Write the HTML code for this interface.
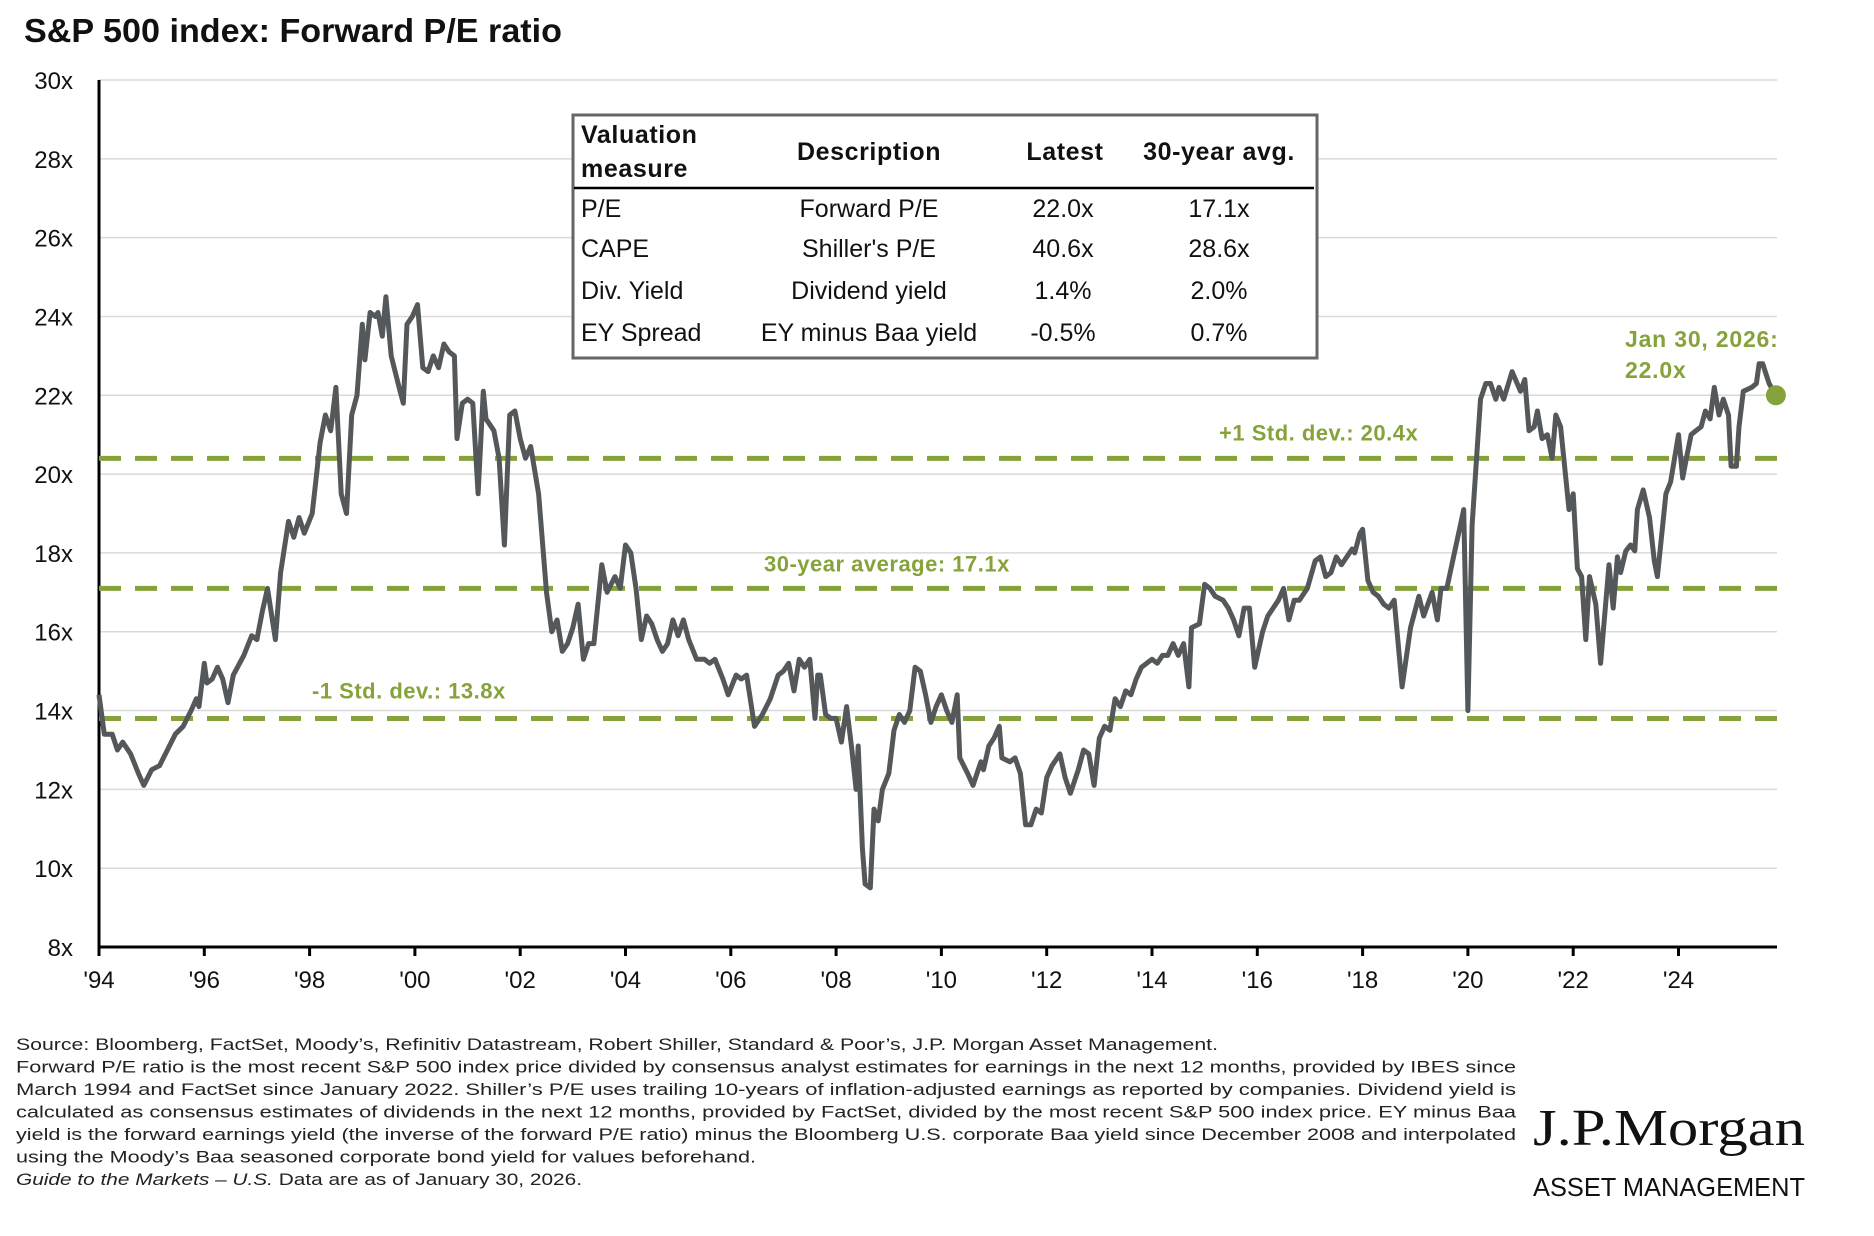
<!DOCTYPE html>
<html><head><meta charset="utf-8"><style>
html,body{margin:0;padding:0;background:#fff;}
svg{display:block;font-family:"Liberation Sans",Arial,sans-serif;}
</style></head><body>
<svg id="chart" width="1874" height="1236" viewBox="0 0 1874 1236">
<text x="24" y="42" font-size="33" font-weight="bold" fill="#111" textLength="538" lengthAdjust="spacingAndGlyphs">S&amp;P 500 index: Forward P/E ratio</text>
<g id="grid"></g>
<g id="yaxis"></g>
<g id="xaxis"></g>
<g id="refs"></g>
<g id="series"></g>

<g>
<rect x="573" y="115" width="744" height="243" fill="#fff" stroke="#666" stroke-width="3"/>
<line x1="574" y1="188" x2="1314" y2="188" stroke="#000" stroke-width="2.5"/>
<g font-size="25" font-weight="bold" fill="#111" letter-spacing="0.6">
<text x="581" y="143">Valuation</text>
<text x="581" y="177">measure</text>
<text x="869" y="160" text-anchor="middle">Description</text>
<text x="1065" y="160" text-anchor="middle">Latest</text>
<text x="1219" y="160" text-anchor="middle">30-year avg.</text>
</g>
<g font-size="25" fill="#111">
<text x="581" y="217">P/E</text>
<text x="869" y="217" text-anchor="middle">Forward P/E</text>
<text x="1063" y="217" text-anchor="middle">22.0x</text>
<text x="1219" y="217" text-anchor="middle">17.1x</text>
<text x="581" y="257">CAPE</text>
<text x="869" y="257" text-anchor="middle">Shiller's P/E</text>
<text x="1063" y="257" text-anchor="middle">40.6x</text>
<text x="1219" y="257" text-anchor="middle">28.6x</text>
<text x="581" y="299">Div. Yield</text>
<text x="869" y="299" text-anchor="middle">Dividend yield</text>
<text x="1063" y="299" text-anchor="middle">1.4%</text>
<text x="1219" y="299" text-anchor="middle">2.0%</text>
<text x="581" y="341">EY Spread</text>
<text x="869" y="341" text-anchor="middle">EY minus Baa yield</text>
<text x="1063" y="341" text-anchor="middle">-0.5%</text>
<text x="1219" y="341" text-anchor="middle">0.7%</text>
</g>
</g>

<g font-size="17" fill="#222">
<text x="16" y="1050" textLength="1202" lengthAdjust="spacingAndGlyphs">Source: Bloomberg, FactSet, Moody’s, Refinitiv Datastream, Robert Shiller, Standard &amp; Poor’s, J.P. Morgan Asset Management.</text>
<text x="16" y="1072.5" textLength="1500" lengthAdjust="spacingAndGlyphs">Forward P/E ratio is the most recent S&amp;P 500 index price divided by consensus analyst estimates for earnings in the next 12 months, provided by IBES since</text>
<text x="16" y="1095" textLength="1500" lengthAdjust="spacingAndGlyphs">March 1994 and FactSet since January 2022. Shiller’s P/E uses trailing 10-years of inflation-adjusted earnings as reported by companies. Dividend yield is</text>
<text x="16" y="1117.5" textLength="1500" lengthAdjust="spacingAndGlyphs">calculated as consensus estimates of dividends in the next 12 months, provided by FactSet, divided by the most recent S&amp;P 500 index price. EY minus Baa</text>
<text x="16" y="1140" textLength="1500" lengthAdjust="spacingAndGlyphs">yield is the forward earnings yield (the inverse of the forward P/E ratio) minus the Bloomberg U.S. corporate Baa yield since December 2008 and interpolated</text>
<text x="16" y="1162.5" textLength="740" lengthAdjust="spacingAndGlyphs">using the Moody’s Baa seasoned corporate bond yield for values beforehand.</text>
<text x="16" y="1185" textLength="566" lengthAdjust="spacingAndGlyphs"><tspan font-style="italic">Guide to the Markets – U.S.</tspan> Data are as of January 30, 2026.</text>
</g>
<g>
<text x="1533" y="1145" font-family="'Liberation Serif',serif" font-size="52" fill="#111" textLength="272" lengthAdjust="spacingAndGlyphs">J.P.Morgan</text>
<text x="1533" y="1196" font-size="26" fill="#111" textLength="272" lengthAdjust="spacingAndGlyphs">ASSET MANAGEMENT</text>
</g>
</svg>
<script>
const yTicks = [8,10,12,14,16,18,20,22,24,26,28,30];
const yTickLabels = ["8x","10x","12x","14x","16x","18x","20x","22x","24x","26x","28x","30x"];
const xTicks = [1994,1996,1998,2000,2002,2004,2006,2008,2010,2012,2014,2016,2018,2020,2022,2024];
const xTickLabels = ["'94","'96","'98","'00","'02","'04","'06","'08","'10","'12","'14","'16","'18","'20","'22","'24"];
const refValues = [20.4, 17.1, 13.8];
const refLabels = ["+1 Std. dev.: 20.4x","30-year average: 17.1x","-1 Std. dev.: 13.8x"];
const dates = [1994.0,1994.1,1994.25,1994.35,1994.45,1994.6,1994.75,1994.85,1995.0,1995.15,1995.3,1995.45,1995.6,1995.75,1995.85,1995.9,1996.0,1996.05,1996.15,1996.25,1996.35,1996.45,1996.55,1996.75,1996.9,1997.0,1997.1,1997.2,1997.35,1997.45,1997.6,1997.7,1997.8,1997.9,1998.05,1998.2,1998.3,1998.4,1998.5,1998.6,1998.7,1998.8,1998.9,1999.0,1999.05,1999.15,1999.25,1999.3,1999.38,1999.45,1999.55,1999.7,1999.78,1999.85,1999.95,2000.05,2000.15,2000.25,2000.35,2000.45,2000.55,2000.65,2000.75,2000.8,2000.9,2001.0,2001.1,2001.2,2001.3,2001.35,2001.5,2001.6,2001.7,2001.8,2001.9,2002.0,2002.1,2002.2,2002.35,2002.5,2002.6,2002.7,2002.8,2002.9,2003.0,2003.1,2003.2,2003.3,2003.4,2003.55,2003.65,2003.8,2003.9,2004.0,2004.1,2004.2,2004.3,2004.4,2004.5,2004.6,2004.7,2004.8,2004.9,2005.0,2005.1,2005.2,2005.35,2005.5,2005.6,2005.7,2005.85,2005.95,2006.1,2006.2,2006.3,2006.45,2006.6,2006.75,2006.9,2007.0,2007.1,2007.2,2007.3,2007.4,2007.5,2007.6,2007.65,2007.7,2007.8,2007.9,2008.0,2008.1,2008.2,2008.3,2008.38,2008.42,2008.5,2008.55,2008.65,2008.72,2008.8,2008.88,2009.0,2009.1,2009.2,2009.3,2009.4,2009.5,2009.6,2009.7,2009.8,2009.9,2010.0,2010.1,2010.2,2010.3,2010.35,2010.5,2010.6,2010.75,2010.8,2010.9,2011.0,2011.1,2011.15,2011.3,2011.4,2011.5,2011.6,2011.7,2011.8,2011.9,2012.0,2012.1,2012.25,2012.35,2012.45,2012.6,2012.7,2012.8,2012.9,2013.0,2013.1,2013.2,2013.3,2013.4,2013.5,2013.6,2013.7,2013.8,2013.9,2014.0,2014.1,2014.2,2014.3,2014.4,2014.5,2014.6,2014.7,2014.75,2014.9,2015.0,2015.1,2015.2,2015.35,2015.45,2015.55,2015.65,2015.75,2015.85,2015.95,2016.1,2016.2,2016.3,2016.4,2016.5,2016.6,2016.7,2016.8,2016.95,2017.1,2017.2,2017.3,2017.4,2017.5,2017.6,2017.7,2017.8,2017.85,2017.95,2018.0,2018.1,2018.2,2018.3,2018.4,2018.5,2018.6,2018.75,2018.91,2019.07,2019.16,2019.32,2019.42,2019.49,2019.6,2019.92,2020.0,2020.08,2020.24,2020.34,2020.43,2020.53,2020.59,2020.68,2020.84,2021.0,2021.08,2021.16,2021.26,2021.32,2021.41,2021.51,2021.6,2021.67,2021.76,2021.86,2021.92,2022.0,2022.08,2022.16,2022.24,2022.31,2022.43,2022.52,2022.68,2022.76,2022.84,2022.9,2023.0,2023.09,2023.17,2023.22,2023.33,2023.45,2023.54,2023.6,2023.7,2023.76,2023.85,2024.0,2024.08,2024.15,2024.24,2024.33,2024.43,2024.51,2024.6,2024.68,2024.77,2024.85,2024.95,2025.0,2025.1,2025.15,2025.23,2025.39,2025.48,2025.53,2025.6,2025.72,2025.85];
const values = [14.4,13.4,13.4,13.0,13.2,12.9,12.4,12.1,12.5,12.6,13.0,13.4,13.6,14.0,14.3,14.1,15.2,14.7,14.8,15.1,14.8,14.2,14.9,15.4,15.9,15.8,16.5,17.1,15.8,17.5,18.8,18.4,18.9,18.5,19.0,20.8,21.5,21.1,22.2,19.5,19.0,21.5,22.0,23.8,22.9,24.1,24.0,24.1,23.5,24.5,23.0,22.2,21.8,23.8,24.0,24.3,22.7,22.6,23.0,22.7,23.3,23.1,23.0,20.9,21.8,21.9,21.8,19.5,22.1,21.4,21.1,20.4,18.2,21.5,21.6,20.9,20.4,20.7,19.5,17.0,16.0,16.3,15.5,15.7,16.1,16.7,15.3,15.7,15.7,17.7,17.0,17.4,17.1,18.2,18.0,17.1,15.8,16.4,16.2,15.8,15.5,15.7,16.3,15.9,16.3,15.8,15.3,15.3,15.2,15.3,14.8,14.4,14.9,14.8,14.9,13.6,13.9,14.3,14.9,15.0,15.2,14.5,15.3,15.1,15.3,13.8,14.9,14.9,13.9,13.8,13.8,13.2,14.1,13.0,12.0,13.1,10.5,9.6,9.5,11.5,11.2,12.0,12.4,13.5,13.9,13.7,14.0,15.1,15.0,14.4,13.7,14.1,14.4,14.0,13.7,14.4,12.8,12.4,12.1,12.7,12.5,13.1,13.3,13.6,12.8,12.7,12.8,12.4,11.1,11.1,11.5,11.4,12.3,12.6,12.9,12.3,11.9,12.5,13.0,12.9,12.1,13.3,13.6,13.5,14.3,14.1,14.5,14.4,14.8,15.1,15.2,15.3,15.2,15.4,15.4,15.7,15.4,15.7,14.6,16.1,16.2,17.2,17.1,16.9,16.8,16.6,16.3,15.9,16.6,16.6,15.1,16.0,16.4,16.6,16.8,17.1,16.3,16.8,16.8,17.1,17.8,17.9,17.4,17.5,17.9,17.7,17.9,18.1,18.0,18.5,18.6,17.3,17.0,16.9,16.7,16.6,16.8,14.6,16.1,16.9,16.4,17.0,16.3,17.1,17.1,19.1,14.0,18.7,21.9,22.3,22.3,21.9,22.2,21.9,22.6,22.1,22.4,21.1,21.2,21.6,20.9,21.0,20.4,21.5,21.2,19.9,19.1,19.5,17.6,17.4,15.8,17.4,16.7,15.2,17.7,16.6,17.9,17.5,18.05,18.2,18.05,19.1,19.6,18.9,17.8,17.4,18.7,19.5,19.8,21.0,19.9,20.4,21.0,21.1,21.2,21.6,21.4,22.2,21.5,21.9,21.5,20.2,20.2,21.2,22.1,22.2,22.3,22.8,22.8,22.3,22.0];

const X0 = 99, PXY = 52.65, Y0 = 80, PXV = 39.41, XEND = 1777, YAX = 947;
function xs(d){ return X0 + (d - 1994) * PXY; }
function ys(v){ return Y0 + (30 - v) * PXV; }
const NS = "http://www.w3.org/2000/svg";
function mk(tag, attrs, parent){ const e = document.createElementNS(NS, tag); for (const k in attrs) e.setAttribute(k, attrs[k]); parent.appendChild(e); return e; }

const grid = document.getElementById('grid');
const yax = document.getElementById('yaxis');
yTicks.forEach((t, i) => {
  if (t > 8) {
    const gl = mk('line', {x1: X0, x2: XEND, y1: ys(t), y2: ys(t), stroke: '#d9d9d9', 'stroke-width': 1.5}, grid);
    
    
  }
  const tx = mk('text', {x: 73, y: ys(t) + 9, 'text-anchor': 'end', 'font-size': 24, fill: '#111'}, yax);
  tx.textContent = yTickLabels[i];
  
  
});
const axl = mk('line', {x1: X0, x2: X0, y1: Y0, y2: YAX + 1.5, stroke: '#000', 'stroke-width': 3}, yax);



const xax = document.getElementById('xaxis');
const bl = mk('line', {x1: X0 - 1.5, x2: XEND, y1: YAX, y2: YAX, stroke: '#000', 'stroke-width': 3}, xax);


xTicks.forEach((t, i) => {
  const tk = mk('line', {x1: xs(t), x2: xs(t), y1: YAX, y2: YAX + 9, stroke: '#000', 'stroke-width': 3}, xax);
  
  
  const tx = mk('text', {x: xs(t), y: 988, 'text-anchor': 'middle', 'font-size': 24, fill: '#111'}, xax);
  tx.textContent = xTickLabels[i];
  
  
});

const refs = document.getElementById('refs');
const refLabelPos = [[1219, -18], [764, -17], [312, -20]];
refValues.forEach((v, i) => {
  const l = mk('line', {x1: X0, x2: XEND, y1: ys(v), y2: ys(v), stroke: '#86a33b', 'stroke-width': 5, 'stroke-dasharray': '22 14'}, refs);
  
  
  const t = mk('text', {x: refLabelPos[i][0], y: ys(v) + refLabelPos[i][1], 'font-size': 22, 'font-weight': 'bold', fill: '#86a33b', 'letter-spacing': '0.5'}, refs);
  t.textContent = refLabels[i];
  
  
});

const ser = document.getElementById('series');
const n = Math.min(dates.length, values.length);
let dpath = '';
for (let i = 0; i < n; i++) { dpath += (i ? 'L' : 'M') + xs(dates[i]).toFixed(1) + ',' + ys(values[i]).toFixed(1); }
const p = mk('path', {d: dpath, fill: 'none', stroke: '#54585a', 'stroke-width': 5, 'stroke-linejoin': 'round'}, ser);


const last = n - 1;
const dot = mk('circle', {cx: xs(dates[last]), cy: ys(values[last]), r: 10, fill: '#86a33b'}, ser);


const a1 = mk('text', {x: 1625, y: 347, 'font-size': 23, 'font-weight': 'bold', fill: '#86a33b', 'letter-spacing': '0.8'}, ser);
a1.textContent = 'Jan 30, 2026:';


const a2 = mk('text', {x: 1625, y: 378, 'font-size': 23, 'font-weight': 'bold', fill: '#86a33b', 'letter-spacing': '0.8'}, ser);
a2.textContent = values[last].toFixed(1) + 'x';


</script>
</body></html>
